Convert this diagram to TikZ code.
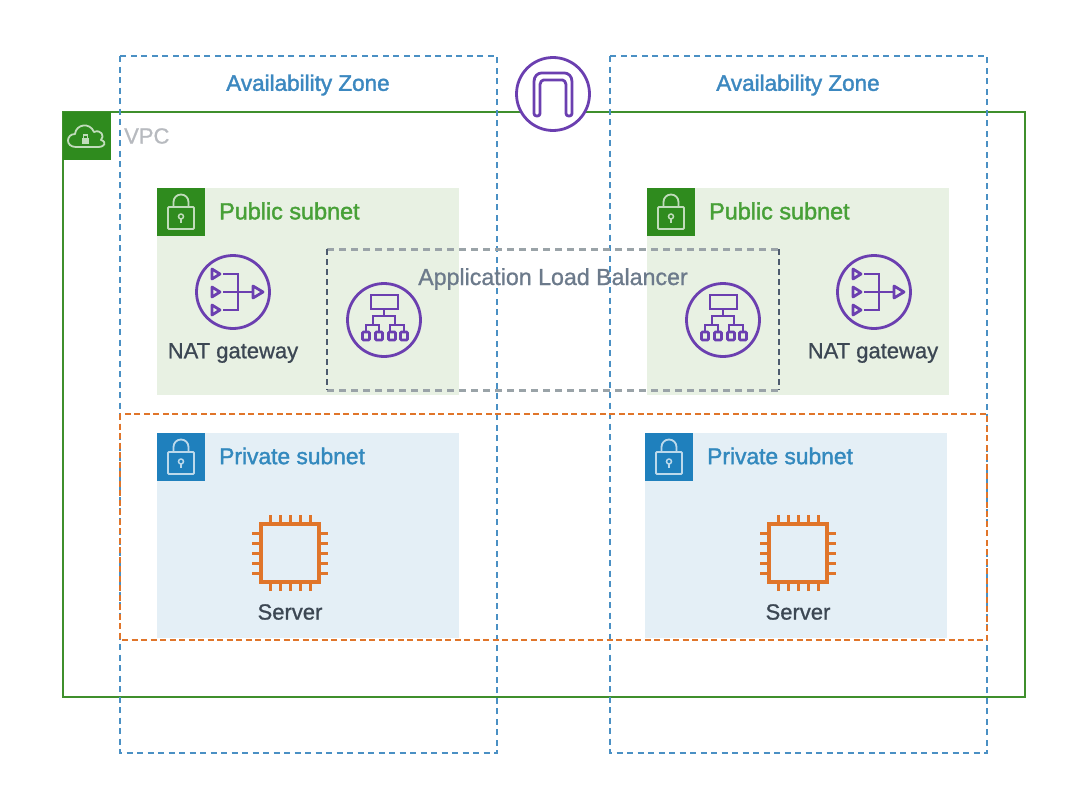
\documentclass[tikz,border=0pt]{standalone}
\usepackage{fontspec}
\setmainfont{Liberation Sans}
\newfontfamily\medfont[FakeBold=1.6]{Liberation Sans}
\newfontfamily\lightfont[FakeBold=0.9]{Liberation Sans}
\definecolor{azblue}{HTML}{4A90C4}
\definecolor{aztext}{HTML}{3C88C0}
\definecolor{vpcgreen}{HTML}{3F8F2C}
\definecolor{tagGreen}{HTML}{2F8B1E}
\definecolor{pubtext}{HTML}{47A037}
\definecolor{pubfill}{HTML}{E8F1E3}
\definecolor{privfill}{HTML}{E4EFF6}
\definecolor{tagBlue}{HTML}{1F80BD}
\definecolor{privtext}{HTML}{3389BE}
\definecolor{purp}{HTML}{6B3FB0}
\definecolor{orng}{HTML}{E0752A}
\definecolor{labdark}{HTML}{3C4753}
\definecolor{albtext}{HTML}{6C7A8B}
\definecolor{albgray}{HTML}{9AA3A8}
\definecolor{albdark}{HTML}{4D5B6E}
\definecolor{vpctext}{HTML}{B7BABF}
\tikzset{
  x=1pt,y=-1pt,
  azbox/.style={draw=azblue,line width=2.3pt,dash pattern=on 6pt off 4.5pt},
  lab/.style={inner sep=0pt,font=\lightfont\fontsize{22}{24}\selectfont},
  pubsub/.style={lab,anchor=west,font=\medfont\fontsize{23.4}{25}\selectfont},
  tag/.style={minimum size=48pt,inner sep=0pt,anchor=north west,draw=none},
  purpl/.style={draw=purp,line width=2.8pt},
  pics/lock/.style={code={
    \draw[white!70!#1,line width=1.8pt,rounded corners=1pt] (-13,-5) rectangle (13,17);
    \draw[white!70!#1,line width=1.8pt] (-7.5,-5) -- (-7.5,-10) arc[start angle=180,end angle=360,radius=7.5] -- (7.5,-5);
    \draw[white!70!#1,line width=1.5pt] (0,4.5) circle[radius=2.5];
    \draw[white!70!#1,line width=1.6pt] (0,7) -- (0,11);
  }},
  pics/nat/.style={code={
    \draw[purpl] (0,0) circle[radius=36.5];
    \foreach \yy in {-18,0,18}{
      \draw[purpl,line join=round] (-21,\yy-5) -- (-13,\yy) -- (-21,\yy+5) -- cycle;
    }
    \draw[purpl] (-10,-18) -- (5,-18) -- (5,18) -- (-10,18);
    \draw[purpl] (-10,0) -- (20,0);
    \draw[purpl,line join=round] (20,-6) -- (30,0) -- (20,6) -- cycle;
  }},
  pics/alb/.style={code={
    \draw[purpl] (0,0) circle[radius=36.5];
    \draw[purpl] (-13,-25) rectangle (14,-11);
    \draw[purpl] (0,-11) -- (0,-4);
    \draw[purpl] (-11,5) -- (-11,-4) -- (11,-4) -- (11,5);
    \draw[purpl] (-18,12) -- (-18,5) -- (-5,5) -- (-5,12);
    \draw[purpl] (6,12) -- (6,5) -- (20,5) -- (20,12);
    \foreach \xx in {-18,-5,8,20}{
      \draw[purpl,rounded corners=1pt] (\xx-3.5,12) rectangle (\xx+3.5,20);
    }
  }},
  pics/chip/.style={code={
    \draw[orng,line width=3.5pt] (-29,-29) rectangle (29,29);
    \foreach \pp in {-20,-10,0,10,20}{
      \draw[orng,line width=3pt] (\pp,-29) -- (\pp,-38);
      \draw[orng,line width=3pt] (\pp,29) -- (\pp,38);
      \draw[orng,line width=3pt] (-29,\pp) -- (-38,\pp);
      \draw[orng,line width=3pt] (29,\pp) -- (38,\pp);
    }
  }}
}
\begin{document}
\begin{tikzpicture}
\useasboundingbox (0,0) rectangle (1080,787);
\fill[white] (0,0) rectangle (1080,787);
% subnets
\fill[pubfill] (157,188) rectangle (459,395);
\fill[pubfill] (647,188) rectangle (949,395);
\fill[privfill] (157,433) rectangle (459,638);
\fill[privfill] (645,433) rectangle (947,638);
% VPC
\draw[vpcgreen,line width=2.2pt] (63,112) rectangle (1025,697);
% zones
\draw[azbox] (120,56) rectangle (497,753);
\draw[azbox] (610,56) rectangle (987,753);
% tier
\draw[orng,line width=1.8pt,dash pattern=on 6pt off 3.5pt] (120,414) rectangle (987,640);
% ALB box
\draw[albgray,line width=3pt,dash pattern=on 7pt off 5pt] (327,249) -- (779,249);
\draw[albgray,line width=3pt,dash pattern=on 7pt off 5pt] (327,390) -- (779,390);
\draw[albdark,line width=2pt,dash pattern=on 6pt off 4pt] (327,249) -- (327,390);
\draw[albdark,line width=2pt,dash pattern=on 6pt off 4pt] (779,249) -- (779,390);
% tags
\node[tag,fill=tagGreen] (vpctag) at (63,112) {};
\node[tag,fill=tagGreen] (pubtag1) at (157,188) {};
\node[tag,fill=tagGreen] (pubtag2) at (647,188) {};
\node[tag,fill=tagBlue] (privtag1) at (157,433) {};
\node[tag,fill=tagBlue] (privtag2) at (645,433) {};
\pic at (181,212) {lock=tagGreen};
\pic at (671,212) {lock=tagGreen};
\pic at (181,457) {lock=tagBlue};
\pic at (669,457) {lock=tagBlue};
% cloud in VPC tag
\begin{scope}[shift={(87,138)}]
\draw[white!70!tagGreen,line width=1.8pt,line join=round]
  (-11,9) .. controls (-22,9) and (-21,-4) .. (-12,-4)
  .. controls (-11,-14) and (3,-16) .. (7,-6)
  .. controls (14,-9) and (18,-2) .. (14,2)
  .. controls (20,4) and (18,9) .. (11,9) -- cycle;
\fill[white!70!tagGreen] (-5,0) rectangle (2,6);
\draw[white!70!tagGreen,line width=1.2pt] (-3.5,0) -- (-3.5,-3) -- (0.5,-3) -- (0.5,0);
\end{scope}
% gateway
\node[circle,minimum size=73pt,inner sep=0pt,draw=purp,line width=2.8pt,fill=white] (igw) at (553,94) {};
\draw[purpl,line join=round,rounded corners=2.5pt]
  (534,116) -- (534,84) .. controls (534,76) and (538,73) .. (544,73) -- (562,73) .. controls (568,73) and (572,76) .. (572,84) -- (572,116) -- (566,116) -- (566,87) .. controls (566,82) and (564,80) .. (560,80) -- (546,80) .. controls (542,80) and (540,82) .. (540,87) -- (540,116) -- cycle;
% icons
\pic at (233,292) {nat};
\pic at (874,292) {nat};
\pic at (384,320) {alb};
\pic at (723,320) {alb};
\pic at (290,553) {chip};
\pic at (798,553) {chip};
% labels
\node[lab,text=aztext,font=\medfont\fontsize{22.5}{24}\selectfont] (az1) at (308,85) {Availability Zone};
\node[lab,text=aztext,font=\medfont\fontsize{22.5}{24}\selectfont] (az2) at (798,85) {Availability Zone};
\node[lab,text=vpctext,anchor=west] (vpc) at (124,136) {VPC};
\node[pubsub,text=pubtext] (pub1) at (219,211) {Public subnet};
\node[pubsub,text=pubtext] (pub2) at (709,211) {Public subnet};
\node[pubsub,text=privtext,font=\medfont\fontsize{22.8}{25}\selectfont] (priv1) at (219,456) {Private subnet};
\node[pubsub,text=privtext,font=\medfont\fontsize{22.8}{25}\selectfont] (priv2) at (707,456) {Private subnet};
\node[lab,text=albtext,font=\lightfont\fontsize{23.2}{25}\selectfont] (alblab) at (553,279) {Application Load Balancer};
\node[lab,text=labdark] (nat1) at (233,353) {NAT gateway};
\node[lab,text=labdark] (nat2) at (873,353) {NAT gateway};
\node[lab,text=labdark] (srv1) at (290,612) {Server};
\node[lab,text=labdark] (srv2) at (798,612) {Server};
\end{tikzpicture}
\end{document}
